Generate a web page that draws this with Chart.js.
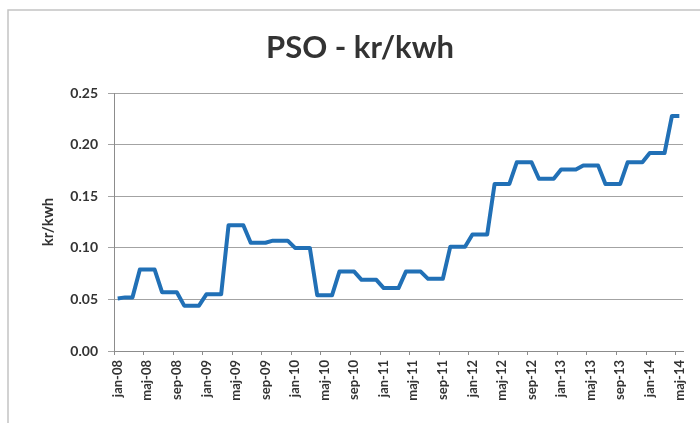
<!DOCTYPE html>
<html>
<head>
<meta charset="utf-8">
<script src="https://cdn.jsdelivr.net/npm/chart.js@4.4.1/dist/chart.umd.min.js"></script>
<style>
  html, body { margin: 0; padding: 0; background: #fff; }
  #wrap { width: 700px; height: 423px; }
</style>
</head>
<body>
<div id="wrap"><canvas id="pso" width="700" height="423"></canvas></div>
<script>
// month labels jan-08 .. maj-14 (Danish abbreviations)
const monthNames = ['jan','feb','mar','apr','maj','jun','jul','aug','sep','okt','nov','dec'];
const years = ['08','09','10','11','12','13','14'];
const categories = [];
years.forEach(y => monthNames.forEach(m => categories.push(m + '-' + y)));
categories.length = 77; // stops at maj-14

// PSO tariff, kr/kwh (changes each quarter)
const psoValues = [
  0.051, 0.052, 0.052,  0.079, 0.079, 0.079,  0.057, 0.057, 0.057,  0.044, 0.044, 0.044,
  0.055, 0.055, 0.055,  0.122, 0.122, 0.122,  0.105, 0.105, 0.105,  0.107, 0.107, 0.107,
  0.100, 0.100, 0.100,  0.054, 0.054, 0.054,  0.077, 0.077, 0.077,  0.069, 0.069, 0.069,
  0.061, 0.061, 0.061,  0.077, 0.077, 0.077,  0.070, 0.070, 0.070,  0.101, 0.101, 0.101,
  0.113, 0.113, 0.113,  0.162, 0.162, 0.162,  0.183, 0.183, 0.183,  0.167, 0.167, 0.167,
  0.176, 0.176, 0.176,  0.180, 0.180, 0.180,  0.162, 0.162, 0.162,  0.183, 0.183, 0.183,
  0.192, 0.192, 0.192,  0.228, 0.228
];

const yTicks = [0, 0.05, 0.10, 0.15, 0.20, 0.25];
const labelEvery = 4;

// frame round the chart, like the pasted Excel chart
const framePlugin = {
  id: 'frame',
  beforeDraw(chart) {
    const c = chart.ctx;
    c.save();
    c.fillStyle = '#fff';
    c.fillRect(0, 0, chart.width, chart.height);
    c.strokeStyle = '#c4c4c4';
    c.lineWidth = 1.5;
    c.beginPath();
    c.moveTo(8, chart.height);
    c.lineTo(8, 10);
    c.lineTo(chart.width, 10);
    c.stroke();
    c.restore();
  }
};

const ctx = document.getElementById('pso').getContext('2d');
new Chart(ctx, {
  type: 'line',
  data: {
    labels: categories,
    datasets: [{
      label: 'PSO',
      data: psoValues,
      borderColor: '#2170b6',
      borderWidth: 4,
      pointRadius: 0,
      tension: 0,
      borderJoinStyle: 'round',
      borderCapStyle: 'butt'
    }]
  },
  options: {
    responsive: false,
    animation: false,
    layout: { padding: { left: 30, right: 10, top: 0, bottom: 0 } },
    plugins: {
      legend: { display: false },
      tooltip: { enabled: false },
      title: {
        display: true,
        text: 'PSO - kr/kwh',
        color: '#333',
        font: { family: 'Lato', size: 31, weight: 'bold' },
        padding: { top: 29, bottom: 27 }
      }
    },
    scales: {
      x: {
        offset: true,
        afterFit: s => { s.height = 72; },
        border: { color: '#8c8c8c', width: 1 },
        grid: {
          offset: true,
          drawOnChartArea: false,
          tickLength: 4,
          tickColor: c => (c.index % labelEvery === 0 ? '#8c8c8c' : 'rgba(0,0,0,0)')
        },
        ticks: {
          autoSkip: false,
          minRotation: 90,
          maxRotation: 90,
          padding: 5,
          color: '#333',
          font: { family: 'Lato', size: 13, weight: 'bold' },
          callback: (v, i) => (i % labelEvery === 0 ? categories[i] : '')
        }
      },
      y: {
        min: 0,
        max: 0.25,
        afterFit: s => { s.width = 84; },
        afterBuildTicks: s => { s.ticks = yTicks.map(v => ({ value: v })); },
        border: { color: '#8c8c8c', width: 1 },
        grid: { color: '#a3a3a3', lineWidth: 1, tickLength: 6 },
        title: {
          display: true,
          text: 'kr/kwh',
          color: '#333',
          font: { family: 'Lato', size: 15, weight: 'bold' },
          padding: { top: 9, bottom: 0 }
        },
        ticks: {
          padding: 10,
          color: '#333',
          font: { family: 'Lato', size: 14, weight: 'bold' },
          callback: v => v.toFixed(2)
        }
      }
    }
  },
  plugins: [framePlugin]
});
</script>
</body>
</html>
